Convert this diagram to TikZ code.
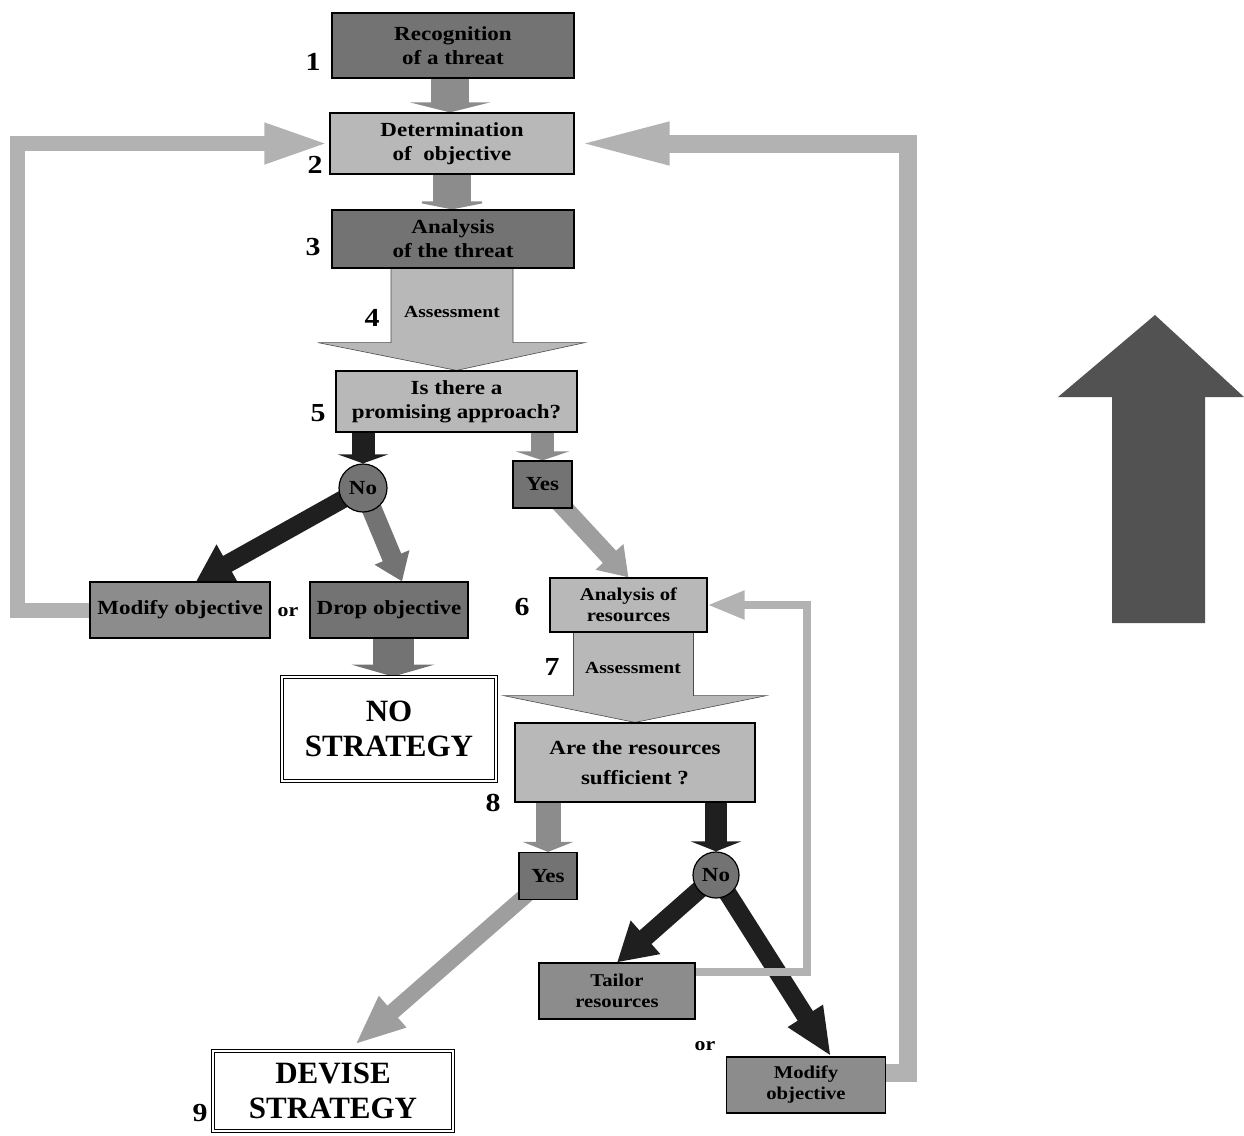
\documentclass[tikz,border=0pt]{standalone}
\usepackage{fontspec}
\setmainfont[FakeStretch=1.15]{Liberation Serif}
\newfontfamily\titlefont{Liberation Serif}
\usepackage{tikz}
\usetikzlibrary{positioning, arrows.meta, calc, backgrounds}

\colorlet{darkpat}{black!55}
\colorlet{lightpat}{black!28}
\colorlet{dotpat}{black!45}
\colorlet{looppat}{black!30}
\colorlet{midarr}{black!45}
\colorlet{blackarr}{black!88}

\tikzset{
  box/.style={draw=black, line width=1.2pt, align=center, inner sep=1pt,
    font=\bfseries\fontsize{20}{24}\selectfont},
  darkbox/.style={box, fill=darkpat},
  lightbox/.style={box, fill=lightpat},
  dotbox/.style={box, fill=dotpat},
  stepnum/.style={font=\bfseries\fontsize{26}{26}\selectfont},
  ortext/.style={font=\bfseries\fontsize{19}{19}\selectfont},
  endbox/.style={draw=black, double=white, double distance=2.5pt, line width=0.9pt,
    align=center, font=\titlefont\bfseries\fontsize{31}{35}\selectfont},
  fat/.style n args={4}{draw=#1, line width=#2,
    -{Triangle[width=#3 0 0, length=#4 0 0]}},
  loopband/.style={draw=looppat, line join=miter},
}

\begin{document}
\begin{tikzpicture}[x=1pt, y=-1pt]
    \useasboundingbox (0,0) rectangle (1244,1135);

    % main column of steps
    \node[darkbox, minimum width=242pt, minimum height=65pt] (rec) at (453,45.5) {Recognition\\of a threat};
    \node[lightbox, minimum width=244pt, minimum height=61pt] (det) at (452,143.5) {Determination\\of \ objective};
    \node[darkbox, minimum width=242pt, minimum height=58pt] (ana) at (453,239) {Analysis\\of the threat};
    \node[lightbox, minimum width=241pt, minimum height=61pt] (prom) at (456.5,401.5) {Is there a\\promising approach?};

    % first decision
    \node[darkbox, circle, minimum size=48pt, inner sep=0pt] (no1) at (363,488) {No};
    \node[darkbox, minimum width=59pt, minimum height=47pt] (yes1) at (542.5,484.5) {Yes};
    \node[dotbox, minimum width=180pt, minimum height=56pt] (modl) at (180,610) {Modify objective};
    \node[ortext] (orl) at (288,612) {or};
    \node[darkbox, minimum width=158pt, minimum height=56pt] (drop) at (389,610) {Drop objective};
    \node[endbox, minimum width=214pt, minimum height=104pt] (nostrat) at (389,729) {NO\\STRATEGY};

    % resources
    \node[lightbox, minimum width=157pt, minimum height=54pt, font=\bfseries\fontsize{18}{21}\selectfont] (res) at (628.5,605) {Analysis of\\resources};
    \node[lightbox, minimum width=240pt, minimum height=79pt, font=\bfseries\fontsize{20}{30}\selectfont] (suff) at (635,762.5) {Are the resources\\sufficient ?};

    % second decision
    \node[darkbox, minimum width=58pt, minimum height=47pt] (yes2) at (548,876) {Yes};
    \node[darkbox, circle, minimum size=46pt, inner sep=0pt] (no2) at (716,875) {No};
    \node[dotbox, minimum width=156pt, minimum height=56pt, font=\bfseries\fontsize{18}{21}\selectfont] (tailor) at (617,991) {Tailor\\resources};
    \node[ortext] (orr) at (705,1046) {or};
    \node[dotbox, minimum width=159pt, minimum height=56pt, font=\bfseries\fontsize{18}{21}\selectfont] (modr) at (806,1085) {Modify\\objective};
    \node[endbox, minimum width=240pt, minimum height=80pt] (devise) at (333,1091) {DEVISE\\STRATEGY};

    % step numbers
    \node[stepnum] (n1) at (313,62) {1};
    \node[stepnum] (n2) at (315,165) {2};
    \node[stepnum] (n3) at (313,247) {3};
    \node[stepnum] (n4) at (372,318) {4};
    \node[stepnum] (n5) at (318,413) {5};
    \node[stepnum] (n6) at (522,607) {6};
    \node[stepnum] (n7) at (552,667) {7};
    \node[stepnum] (n8) at (493,803) {8};
    \node[stepnum] (n9) at (200,1113) {9};

    \begin{scope}[on background layer]
    % straight block arrows
    \draw[fat={midarr}{38pt}{80pt}{10pt}] (rec.south -| 450,0) -- (det.north -| 450,0);
    \draw[fat={midarr}{38pt}{80pt}{8pt}] (det.south -| 452,0) -- (ana.north -| 452,0);
    \draw[fat={blackarr}{23pt}{50pt}{9pt}] (prom.south -| no1) -- (no1.north);
    \draw[fat={midarr}{23pt}{53pt}{9pt}] (prom.south -| yes1) -- (yes1.north);
    \draw[fat={darkpat}{41pt}{83pt}{12pt}] (drop.south -| 393,0) -- (nostrat.north -| 393,0);
    \draw[fat={midarr}{25pt}{50pt}{10pt}] (suff.south -| yes2) -- (yes2.north);
    \draw[fat={blackarr}{22pt}{50pt}{10pt}] (suff.south -| no2) -- (no2.north);

    % diagonal arrows
    \draw[fat={blackarr}{18pt}{42pt}{36pt}] (no1.center) -- ($(modl.north)+(16,0)$);
    \draw[fat={darkpat}{20pt}{36pt}{26pt}] (no1.center) -- ($(drop.north)+(13,0)$);
    \draw[fat={black!38}{18pt}{36pt}{28pt}] (yes1.center) -- (res.north);
    \draw[fat={black!38}{16pt}{38pt}{50pt}] (yes2.center) -- ($(devise.north)+(22,-6)$);
    \draw[fat={blackarr}{18pt}{42pt}{38pt}] (no2.center) -- (tailor.north);
    \draw[fat={blackarr}{18pt}{38pt}{48pt}] (no2.center) -- ($(modr.north)+(25,0)$);

    % assessment arrows
    \filldraw[fill=lightpat, draw=black!70, line width=0.6pt] ($(ana.south)+(-62,0)$) -- ($(ana.south)+(-62,74)$)
      -- ($(ana.south)+(-135,74)$) -- (prom.north) -- ($(ana.south)+(132,74)$)
      -- ($(ana.south)+(60,74)$) -- ($(ana.south)+(60,0)$) -- cycle;
    \node[font=\bfseries\fontsize{17}{17}\selectfont] (as4) at (452,312) {Assessment};
    \filldraw[fill=lightpat, draw=black!70, line width=0.6pt] ($(res.south)+(-55,0)$) -- ($(res.south)+(-55,63)$)
      -- ($(res.south)+(-125,63)$) -- (suff.north) -- ($(res.south)+(138,63)$)
      -- ($(res.south)+(65,63)$) -- ($(res.south)+(65,0)$) -- cycle;
    \node[font=\bfseries\fontsize{17}{17}\selectfont] (as7) at (633,668) {Assessment};

    % feedback loops
    \coordinate (lft) at (17,610);
    \draw[loopband, line width=15pt, -{Triangle[width=37pt 0 0, length=65pt 0 0]}]
      (modl.west) -- (lft) |- (det.west);
    \coordinate (rgt) at (908,1073);
    \draw[loopband, line width=18pt, -{Triangle[width=38pt 0 0, length=95pt 0 0]}]
      ($(modr.east)+(0,-12)$) -- (rgt) |- (det.east);
    \coordinate (inr) at (807,972);
    \draw[loopband, line width=8pt, -{Triangle[width=27pt 0 0, length=37pt 0 0]}]
      ($(tailor.east)+(0,-19)$) -- (inr) |- (res.east);
    \end{scope}

    % big arrow on the right
    \fill[black!68] (1112,623) -- (1112,397) -- (1058,397) -- (1155,315) -- (1244,397)
      -- (1205,397) -- (1205,623) -- cycle;

\end{tikzpicture}
\end{document}
